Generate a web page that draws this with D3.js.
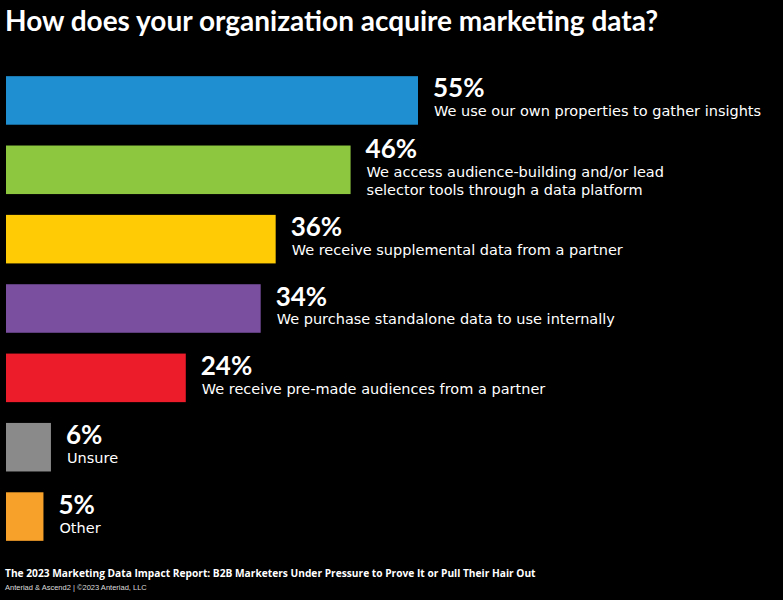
<!DOCTYPE html>
<html>
<head>
<meta charset="utf-8">
<script src="https://cdn.jsdelivr.net/npm/d3@7"></script>
<style>
  html, body { margin: 0; padding: 0; background: #000; }
  svg { display: block; }
</style>
</head>
<body>
<script>
const width = 783
const height = 600

// data
const percents = [55, 46, 36, 34, 24, 6, 5]
const labels = [
  ['We use our own properties to gather insights'],
  ['We access audience-building and/or lead', 'selector tools through a data platform'],
  ['We receive supplemental data from a partner'],
  ['We purchase standalone data to use internally'],
  ['We receive pre-made audiences from a partner'],
  ['Unsure'],
  ['Other']
]
const colors = ['#1f8fd2', '#8dc63f', '#ffcb05', '#7a4fa0', '#ec1c2a', '#8a8a8a', '#f7a12a']

const title = 'How does your organization acquire marketing data?'
const source = 'The 2023 Marketing Data Impact Report: B2B Marketers Under Pressure to Prove It or Pull Their Hair Out'
const credit = 'Anteriad & Ascend2 | \u00a92023 Anteriad, LLC'

const data = percents.map((v, i) => ({ value: v, lines: labels[i], color: colors[i] }))

const svg = d3.select('body').append('svg')
  .attr('width', width)
  .attr('height', height)

svg.append('rect')
  .attr('width', width)
  .attr('height', height)
  .attr('fill', '#000')

svg.append('text')
  .attr('x', 5)
  .attr('y', 31)
  .attr('fill', '#fff')
  .style('font-family', 'Lato, "Open Sans", sans-serif')
  .style('font-weight', 700)
  .style('font-size', '28px')
  .text(title)

const xScale = d3.scaleLinear()
  .domain([0, 55])
  .range([6, 418])

const yScale = d3.scaleBand()
  .domain(d3.range(data.length))
  .range([72, 545])
  .paddingInner(0.3)
  .paddingOuter(0.06)

const rows = svg.selectAll('g.row').data(data)
  .enter()
  .append('g')
  .attr('class', 'row')
  .attr('transform', (d, i) => `translate(0,${yScale(i)})`)

rows.append('rect')
  .attr('x', xScale(0))
  .attr('y', 0)
  .attr('width', d => xScale(d.value) - xScale(0))
  .attr('height', yScale.bandwidth())
  .attr('fill', d => d.color)

const mid = yScale.bandwidth() / 2
const lineH = 18

rows.append('text')
  .attr('x', d => xScale(d.value) + 15)
  .attr('y', d => mid - 3 - (d.lines.length - 1) * 9)
  .attr('fill', '#fff')
  .style('font-family', 'Lato, sans-serif')
  .style('font-weight', 700)
  .style('font-size', '26px')
  .text(d => d.value + '%')

rows.append('text')
  .attr('x', d => xScale(d.value) + 16)
  .attr('y', d => mid + 16 - (d.lines.length - 1) * 9)
  .attr('fill', '#fff')
  .style('font-family', '"DejaVu Sans", sans-serif')
  .style('font-size', '14.5px')
  .selectAll('tspan')
  .data(d => d.lines)
  .enter()
  .append('tspan')
  .attr('x', function () { return d3.select(this.parentNode).attr('x') })
  .attr('dy', (d, i) => i === 0 ? 0 : lineH)
  .text(d => d)

svg.append('text')
  .attr('x', 5)
  .attr('y', 577)
  .attr('fill', '#fff')
  .style('font-family', '"Open Sans", sans-serif')
  .style('font-weight', 700)
  .style('font-size', '10.2px')
  .text(source)

svg.append('text')
  .attr('x', 5)
  .attr('y', 590)
  .attr('fill', '#ddd')
  .style('font-family', '"Liberation Sans", sans-serif')
  .style('font-size', '7.5px')
  .text(credit)
</script>
</body>
</html>
